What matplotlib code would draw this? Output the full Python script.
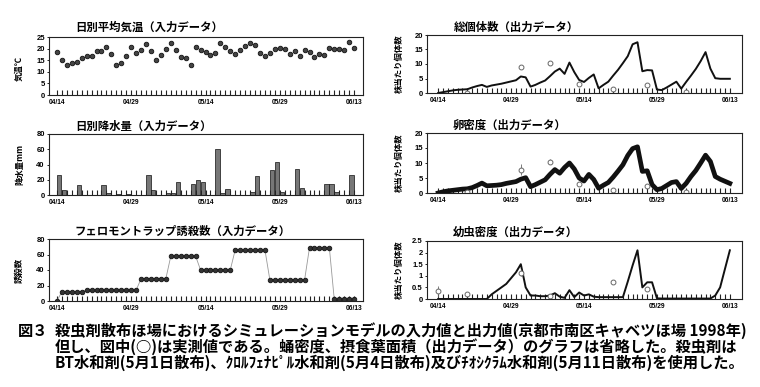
import numpy as np
import matplotlib
matplotlib.use('Agg')
import matplotlib.pyplot as plt

plt.rcParams['font.family'] = ['Noto Sans CJK JP', 'DejaVu Sans']

# ==========================================
# DATA (04/14 - 06/13, 1998)
# ==========================================
date_ticks = [0, 15, 30, 45, 60]
date_labels = ['04/14', '04/29', '05/14', '05/29', '06/13']
n_days = 61

# daily mean temperature (C)
temp = [18.6, 14.9, 12.9, 13.7, 14.3, 16.0, 17.0, 16.8, 18.9, 18.8,
        20.5, 17.5, 13.0, 14.0, 17.0, 20.8, 17.9, 19.2, 22.1, 19.1,
        15.3, 17.2, 19.9, 22.4, 19.2, 16.3, 15.9, 13.1, 20.7, 19.5,
        18.4, 17.3, 18.1, 22.4, 20.5, 18.8, 17.8, 19.2, 21.1, 22.4,
        21.5, 17.9, 16.6, 18.2, 19.8, 20.2, 19.8, 17.8, 19.1, 16.8,
        19.4, 18.5, 16.5, 17.5, 17.2, 20.2, 19.8, 19.8, 19.2, 22.8, 20.1]

# daily rainfall (mm), only rainy days listed
rain_days = [0, 1, 4, 9, 10, 12, 14, 18, 19, 22, 23, 24, 27, 28, 29, 32, 33, 34,
             39, 40, 43, 44, 45, 48, 49, 54, 55, 56, 59]
rain_mm = [26, 7, 13, 13, 2, 1, 1, 26, 7, 2, 3, 17, 14, 20, 17, 60, 3, 8,
           4, 25, 33, 43, 4, 34, 9, 15, 14, 4, 26]

# pheromone trap catches
trap = [0,
        12, 12, 12, 12, 12,
        14, 14, 14, 14, 14, 14, 14, 14, 14, 14, 14,
        29, 29, 29, 29, 29, 29,
        58, 58, 58, 58, 58, 58,
        40, 40, 40, 40, 40, 40, 40,
        66, 66, 66, 66, 66, 66, 66,
        27, 27, 27, 27, 27, 27, 27, 27,
        69, 69, 69, 69, 69,
        2, 2, 2, 2, 2]

# model output: total individuals per plant
total = [0.0, 0.3, 0.6, 0.9, 1.1, 1.2, 1.3, 1.9, 2.4, 2.8,
         2.1, 2.6, 2.9, 3.2, 3.6, 4.0, 4.4, 5.7, 5.4, 2.2,
         2.8, 3.6, 4.3, 5.8, 7.4, 8.4, 6.6, 10.5, 7.2, 4.5,
         3.8, 5.2, 6.4, 1.6, 2.8, 3.9, 6.0, 8.0, 10.3, 12.7,
         16.8, 17.5, 7.5, 7.9, 7.8, 1.2, 1.0, 1.9, 2.9, 3.9,
         1.5, 3.8, 6.0, 8.3, 11.0, 14.1, 8.4, 5.1, 4.9, 4.9, 4.9]
total_obs_day = [6, 17, 23, 29, 36, 43, 51]
total_obs = [0.0, 8.8, 10.5, 3.0, 1.4, 2.9, 0.4]
total_err = [0, 0, 0, 0, 0.6, 0, 0]

# model output: egg density
egg = [0.0, 0.4, 0.7, 0.9, 1.1, 1.3, 1.4, 1.8, 2.5, 3.3,
       2.4, 2.5, 2.6, 2.8, 3.2, 3.5, 3.8, 4.6, 5.1, 2.1,
       2.8, 3.6, 4.4, 6.2, 7.8, 6.6, 8.5, 10.0, 8.0, 5.0,
       4.0, 6.2, 4.5, 1.6, 2.6, 3.5, 5.3, 7.3, 9.4, 12.5,
       14.8, 15.4, 7.2, 7.4, 2.8, 1.1, 1.5, 2.5, 3.5, 3.8,
       1.5, 3.2, 5.5, 7.5, 10.0, 12.6, 10.5, 5.5, 4.6, 3.9, 3.2]
egg_obs_day = [6, 17, 23, 29, 36, 43, 51]
egg_obs = [0.2, 7.8, 10.5, 2.9, 0.9, 2.5, 0.2]
egg_err = [0, 1.8, 0.8, 0.6, 0.3, 0.5, 0]

# model output: larva density
larva = [0.0, 0.0, 0.0, 0.0, 0.0, 0.0, 0.0, 0.0, 0.0, 0.0,
         0.0, 0.2, 0.35, 0.5, 0.65, 0.9, 1.15, 1.5, 0.5, 0.15,
         0.15, 0.12, 0.12, 0.15, 0.25, 0.1, 0.05, 0.38, 0.08, 0.28,
         0.15, 0.2, 0.1, 0.08, 0.08, 0.08, 0.08, 0.08, 0.08, 0.75,
         1.45, 2.1, 0.5, 0.72, 0.72, 0.03, 0.02, 0.02, 0.02, 0.02,
         0.02, 0.02, 0.02, 0.02, 0.02, 0.02, 0.02, 0.15, 0.5, 1.3, 2.1]
larva_obs_day = [0, 6, 17, 23, 36, 43]
larva_obs = [0.33, 0.23, 1.13, 0.15, 0.73, 0.45]
larva_err = [0.25, 0.04, 0.15, 0.03, 0.06, 0.06]

titles = ['日別平均気温（入力データ）', '日別降水量（入力データ）',
          'フェロモントラップ誘殺数（入力データ）',
          '総個体数（出力データ）', '卵密度（出力データ）', '幼虫密度（出力データ）']

caption = ['殺虫剤散布ほ場におけるシミュレーションモデルの入力値と出力値(京都市南区キャベツほ場 1998年)',
           '但し、図中(○)は実測値である。蛹密度、摂食葉面積（出力データ）のグラフは省略した。殺虫剤は',
           'BT水和剤(5月1日散布)、ｸﾛﾙﾌｪﾅﾋﾟﾙ水和剤(5月4日散布)及びﾁｵｼｸﾗﾑ水和剤(5月11日散布)を使用した。']

# ==========================================
# FIGURE
# ==========================================
W, H = 760, 387
fig = plt.figure(figsize=(W / 100, H / 100), dpi=100)
days = np.arange(n_days)


def make_ax(left, top, right, bottom):
    return fig.add_axes([left / W, 1 - bottom / H, (right - left) / W, (bottom - top) / H])


def style_ax(ax, ylim, yticks, ylabels, ylabel, xlim):
    ax.set_xlim(*xlim)
    ax.set_ylim(*ylim)
    ax.set_xticks(date_ticks)
    ax.set_xticklabels(date_labels, family='Liberation Sans', fontweight='bold')
    ax.set_xticks(days, minor=True)
    ax.set_yticks(yticks)
    ax.set_yticklabels(ylabels, family='Liberation Sans', fontweight='bold')
    ax.tick_params(axis='x', which='both', direction='in', length=3.3, width=0.8,
                   pad=3, labelsize=4.8, color='#222')
    ax.tick_params(axis='y', direction='out', length=1.5, width=0.6, pad=1.5, labelsize=5.5)
    for s in ax.spines.values():
        s.set_linewidth(0.8)
        s.set_color('#222')
    ax.set_ylabel(ylabel, fontsize=6, fontweight='bold', labelpad=0)
    ax.set_axisbelow(True)


left_x = (-1.6, 61.8)
right_x = (-2.3, 62.5)

# --- temperature
ax1 = make_ax(49, 37, 363, 95)
ax1.plot(days, temp, 'o', ms=3.3, mfc='#444', mec='#111', mew=0.6)
style_ax(ax1, (0, 25), [0, 5, 10, 15, 20, 25], ['0', '5', '10', '15', '20', '25'], '気温℃', left_x)
ax1.yaxis.set_label_coords(-0.08, 0.45)

# --- rainfall
ax2 = make_ax(49, 134, 363, 195)
ax2.bar(rain_days, rain_mm, width=0.9, align='edge', color='#777', edgecolor='#111', linewidth=0.5)
style_ax(ax2, (0, 80), [0, 20, 40, 60, 80], ['0', '20', '40', '60', '80'], '降水量mm', left_x)
ax2.yaxis.set_label_coords(-0.08, 0.5)

# --- pheromone trap
ax3 = make_ax(49, 239, 363, 301)
ax3.plot(days, trap, '-', color='#999', lw=0.6)
ax3.plot(days, trap, 'o', ms=3.3, mfc='#333', mec='#111', mew=0.6)
style_ax(ax3, (0, 80), [0, 20, 40, 60, 80], ['0', '20', '40', '60', '80'], '誘殺数', left_x)
ax3.yaxis.set_label_coords(-0.08, 0.5)

obs_style = dict(fmt='o', ms=3.5, mfc='white', mec='#666', mew=0.7,
                 ecolor='#666', elinewidth=0.6, capsize=0)

# --- total individuals
ax4 = make_ax(427, 35, 742, 93)
ax4.plot(days, total, color='#111', lw=1.4)
ax4.errorbar(total_obs_day, total_obs, yerr=total_err, **obs_style)
style_ax(ax4, (0, 20), [0, 5, 10, 15, 20], ['0', '5', '10', '15', '20'], '株当たり個体数', right_x)
ax4.yaxis.set_label_coords(-0.075, 0.5)

# --- egg density
ax5 = make_ax(427, 133, 742, 193)
ax5.plot(days, egg, color='#111', lw=3.4, solid_joinstyle='round')
ax5.errorbar(egg_obs_day, egg_obs, yerr=egg_err, **obs_style)
style_ax(ax5, (0, 20), [0, 5, 10, 15, 20], ['0', '5', '10', '15', '20'], '株当たり個体数', right_x)
ax5.yaxis.set_label_coords(-0.075, 0.5)

# --- larva density
ax6 = make_ax(427, 241, 742, 299)
ax6.plot(days, larva, color='#111', lw=1.4)
ax6.errorbar(larva_obs_day, larva_obs, yerr=larva_err, **obs_style)
style_ax(ax6, (0, 2.5), [0, 0.5, 1, 1.5, 2, 2.5], ['0', '0.5', '1', '1.5', '2', '2.5'],
         '株当たり個体数', right_x)
ax6.yaxis.set_label_coords(-0.075, 0.5)

# titles
title_pos = [(75, 27), (75, 126), (75, 231), (454, 27), (453, 125), (453, 232)]
for t, (tx, ty) in zip(titles, title_pos):
    fig.text(tx / W, 1 - ty / H, t, fontsize=8.2, fontweight='bold', ha='left', va='center')

# caption
fig.text(18 / W, 1 - 331 / H, '図３', fontsize=11, fontweight='bold', ha='left', va='center')
for line, cy in zip(caption, [331, 347, 363]):
    fig.text(55 / W, 1 - cy / H, line, fontsize=11, fontweight='bold', ha='left', va='center')

fig.savefig('out.png', dpi=100, facecolor='white')
